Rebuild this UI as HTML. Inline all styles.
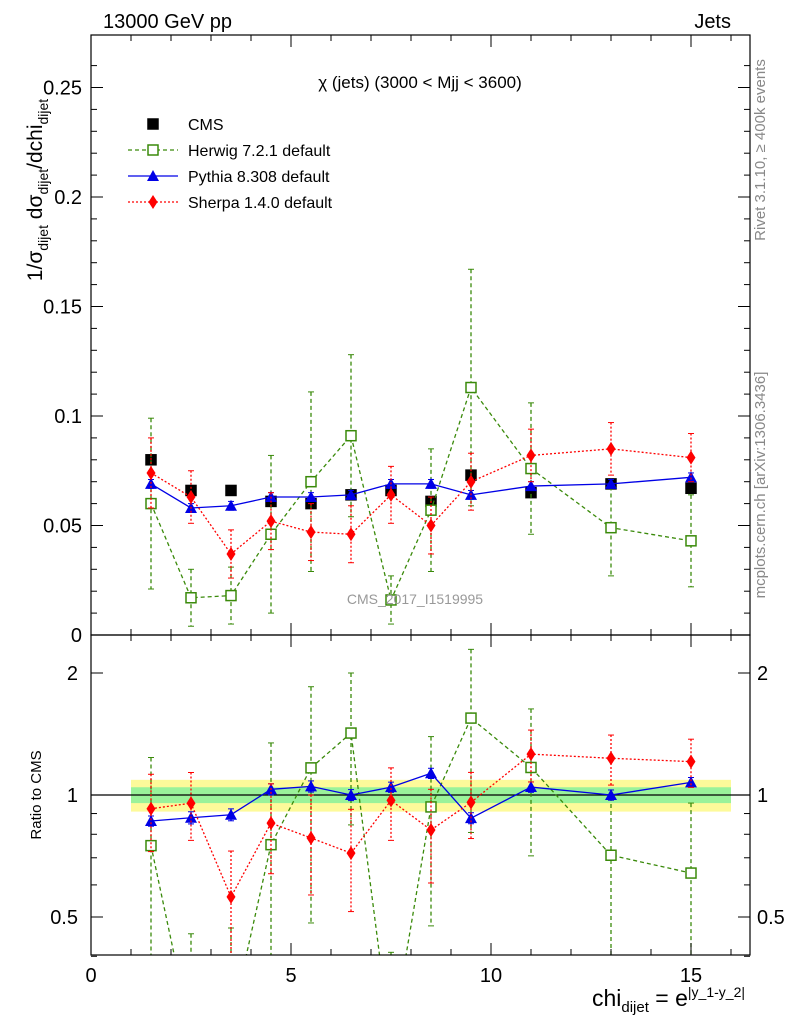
<!DOCTYPE html>
<html><head><meta charset="utf-8"><style>
html,body{margin:0;padding:0;background:#fff;overflow:hidden;width:786px;height:1024px;}
svg{display:block;}
svg text{font-family:"Liberation Sans",sans-serif;}
</style></head><body>
<svg id="c" width="786" height="1024" xmlns="http://www.w3.org/2000/svg"></svg>
<script>
const xs=[1.5,2.5,3.5,4.5,5.5,6.5,7.5,8.5,9.5,11,13,15];
const cms=[0.080,0.066,0.066,0.061,0.060,0.064,0.066,0.061,0.073,0.065,0.069,0.067];
const herwig=[0.060,0.017,0.018,0.046,0.070,0.091,0.016,0.057,0.113,0.076,0.049,0.043];
const herwigErr=[0.039,0.013,0.013,0.036,0.041,0.037,0.011,0.028,0.054,0.030,0.022,0.021];
const pythia=[0.069,0.058,0.059,0.063,0.063,0.064,0.069,0.069,0.064,0.068,0.069,0.072];
const pythiaErr=[0.002,0.002,0.002,0.002,0.002,0.002,0.002,0.002,0.002,0.002,0.002,0.002];
const sherpa=[0.074,0.063,0.037,0.052,0.047,0.046,0.064,0.050,0.070,0.082,0.085,0.081];
const sherpaErr=[0.016,0.012,0.011,0.013,0.013,0.013,0.013,0.013,0.013,0.012,0.012,0.011];
const xTicks=[0,5,10,15];
const yTicks=[0,0.05,0.1,0.15,0.2,0.25];
const yTickLabels=["0","0.05","0.1","0.15","0.2","0.25"];
const rTicks=[0.5,1,2];
const NS="http://www.w3.org/2000/svg";
const svg=document.getElementById('c');
const L=91,R=750,T=35,B=635,RT=635,RB=955;
const X=v=>L+v*40;
const Y=v=>B-v*2190;
const RY=v=>795-Math.log2(v)*122;
function el(tag,a,name,parent){const e=document.createElementNS(NS,tag);for(const k in a)e.setAttribute(k,a[k]);


(parent||svg).appendChild(e);return e;}
function txt(x,y,s,size,name,anchor,extra){const t=el('text',Object.assign({x:x,y:y,'font-size':size,'text-anchor':anchor||'start'},extra||{}),name);t.textContent=s;return t;}
const defs=el('defs',{},'defs');
const c1=el('clipPath',{id:'cm'},'clip-main',defs);el('rect',{x:L,y:T,width:R-L,height:B-T},'clip-rect',c1);
const c2=el('clipPath',{id:'cr'},'clip-ratio',defs);el('rect',{x:L,y:RT,width:R-L,height:RB-RT},'clip-rect',c2);
const gm=el('g',{'clip-path':'url(#cm)'},'main-plot');
const gr=el('g',{'clip-path':'url(#cr)'},'ratio-plot');
el('rect',{x:X(1),y:RY(1.09),width:X(16)-X(1),height:RY(0.91)-RY(1.09),fill:'#fdfa9a'},'cms-syst-band',gr);
el('rect',{x:X(1),y:RY(1.045),width:X(16)-X(1),height:RY(0.955)-RY(1.045),fill:'#9af29a'},'cms-stat-band',gr);
el('line',{x1:L,x2:R,y1:RY(1),y2:RY(1),stroke:'#000','stroke-width':1.2},'unity-line',gr);
el('rect',{x:L,y:T,width:R-L,height:B-T,fill:'none',stroke:'#000','stroke-width':1.2},'main-frame');
el('rect',{x:L,y:RT,width:R-L,height:RB-RT,fill:'none',stroke:'#000','stroke-width':1.2},'ratio-frame');
for(let v=0;v<=16;v++){const big=v%5==0;const h=big?12:6;
[[B,'main'],[RB,'ratio']].forEach(([yb,n])=>{el('line',{x1:X(v),x2:X(v),y1:yb,y2:yb-h,stroke:'#000'},'x-tick-'+n);});
[[T,'main'],[RT,'ratio']].forEach(([yt,n])=>{el('line',{x1:X(v),x2:X(v),y1:yt,y2:yt+h,stroke:'#000'},'x-tick-top-'+n);});}
xTicks.forEach(v=>txt(X(v),982,String(v),20,'x-tick-label','middle'));
for(let v=0;v<=0.27;v+=0.01){const big=Math.abs(v*20-Math.round(v*20))<1e-6;const h=big?12:6;
el('line',{x1:L,x2:L+h,y1:Y(v),y2:Y(v),stroke:'#000'},'y-tick');
el('line',{x1:R,x2:R-h,y1:Y(v),y2:Y(v),stroke:'#000'},'y-tick-right');}
yTicks.forEach((v,i)=>txt(82,Y(v)+7,yTickLabels[i],20,'y-tick-label','end'));
[0.4,0.5,0.6,0.7,0.8,0.9,1,2].forEach(v=>{const big=rTicks.includes(v);const h=big?12:6;
el('line',{x1:L,x2:L+h,y1:RY(v),y2:RY(v),stroke:'#000'},'ratio-tick');
el('line',{x1:R,x2:R-h,y1:RY(v),y2:RY(v),stroke:'#000'},'ratio-tick-right');});
rTicks.forEach(v=>{txt(78,RY(v)+7,String(v),20,'ratio-tick-label','end');txt(757,RY(v)+7,String(v),20,'ratio-tick-label-right','start');});
function series(vals,errs,color,dash,marker,name,g,fn){
 const pts=xs.map((x,i)=>[X(x),fn(vals[i])]);
 el('polyline',{points:pts.map(p=>p.join(',')).join(' '),fill:'none',stroke:color,'stroke-width':1.3,'stroke-dasharray':dash},name+'-line',g);
 xs.forEach((x,i)=>{
  if(errs){const lo=Math.max(vals[i]-errs[i],0.0001);el('line',{x1:X(x),x2:X(x),y1:fn(vals[i]+errs[i]),y2:fn(lo),stroke:color,'stroke-width':1.3,'stroke-dasharray':dash},name+'-errorbar',g);
   [vals[i]+errs[i],lo].forEach(v=>el('line',{x1:X(x)-3,x2:X(x)+3,y1:fn(v),y2:fn(v),stroke:color},name+'-errcap',g));}
  marker(X(x),fn(vals[i]),g,name);
 });
}
const sq=(col,fill)=>(x,y,g,n)=>el('rect',{x:x-5,y:y-5,width:10,height:10,fill:fill,stroke:col,'stroke-width':1.5},n+'-marker',g);
const tri=col=>(x,y,g,n)=>el('polygon',{points:`${x},${y-6} ${x-6},${y+5} ${x+6},${y+5}`,fill:col},n+'-marker',g);
const dia=col=>(x,y,g,n)=>el('polygon',{points:`${x},${y-7} ${x-4.5},${y} ${x},${y+7} ${x+4.5},${y}`,fill:col},n+'-marker',g);
xs.forEach((x,i)=>sq('#000','#000')(X(x),Y(cms[i]),gm,'cms'));
series(herwig,herwigErr,'#3a8a0a','4,3',sq('#3a8a0a','#fff'),'herwig',gm,Y);
series(pythia,pythiaErr,'#0000e6','',tri('#0000e6'),'pythia',gm,Y);
series(sherpa,sherpaErr,'#f00','2,2',dia('#f00'),'sherpa',gm,Y);
const rat=(a,e)=>({v:a.map((v,i)=>v/cms[i]),e:e.map((v,i)=>v/cms[i])});
let h=rat(herwig,herwigErr),p=rat(pythia,pythiaErr),s=rat(sherpa,sherpaErr);
series(h.v,h.e,'#3a8a0a','4,3',sq('#3a8a0a','#fff'),'herwig-ratio',gr,RY);
series(p.v,p.e,'#0000e6','',tri('#0000e6'),'pythia-ratio',gr,RY);
series(s.v,s.e,'#f00','2,2',dia('#f00'),'sherpa-ratio',gr,RY);
txt(103,28,'13000 GeV pp',20,'energy-label');
txt(731,28,'Jets',20,'process-label','end');
txt(420,88,'χ (jets) (3000 < Mjj < 3600)',17,'plot-title','middle');
txt(415,604,'CMS_2017_I1519995',14,'analysis-id','middle',{fill:'#999'});
txt(765,150,'Rivet 3.1.10, ≥ 400k events',15,'rivet-label','middle',{fill:'#888',transform:'rotate(-90 765 150)'});
txt(765,485,'mcplots.cern.ch [arXiv:1306.3436]',15,'mcplots-label','middle',{fill:'#888',transform:'rotate(-90 765 485)'});
txt(41,795,'Ratio to CMS',15,'ratio-y-title','middle',{transform:'rotate(-90 41 795)'});
const yt=el('text',{x:42,y:190,'font-size':21,'text-anchor':'middle',transform:'rotate(-90 42 190)'},'y-axis-title');
yt.innerHTML='1/σ<tspan font-size="14" dy="6">dijet</tspan><tspan dy="-6"> dσ</tspan><tspan font-size="14" dy="6">dijet</tspan><tspan dy="-6">/dchi</tspan><tspan font-size="14" dy="6">dijet</tspan>';
const xt=el('text',{x:745,y:1006,'font-size':23,'text-anchor':'end'},'x-axis-title');
xt.innerHTML='chi<tspan font-size="15" dy="6">dijet</tspan><tspan dy="-6"> = e</tspan><tspan font-size="14" dy="-9">|y_1-y_2|</tspan>';
const lg=[['CMS','#000','','cms'],['Herwig 7.2.1 default','#3a8a0a','4,3','herwig'],['Pythia 8.308 default','#0000e6','','pythia'],['Sherpa 1.4.0 default','#f00','2,2','sherpa']];
lg.forEach((l,i)=>{const y=124+i*26;
 if(i>0)el('line',{x1:128,x2:178,y1:y,y2:y,stroke:l[1],'stroke-width':1.3,'stroke-dasharray':l[2]},'legend-line');
 const mk=[sq('#000','#000'),sq('#3a8a0a','#fff'),tri('#0000e6'),dia('#f00')][i];mk(153,y,svg,'legend-'+l[3]);
 txt(188,y+6,l[0],16,'legend-entry-'+l[3]);});
</script>
</body></html>
